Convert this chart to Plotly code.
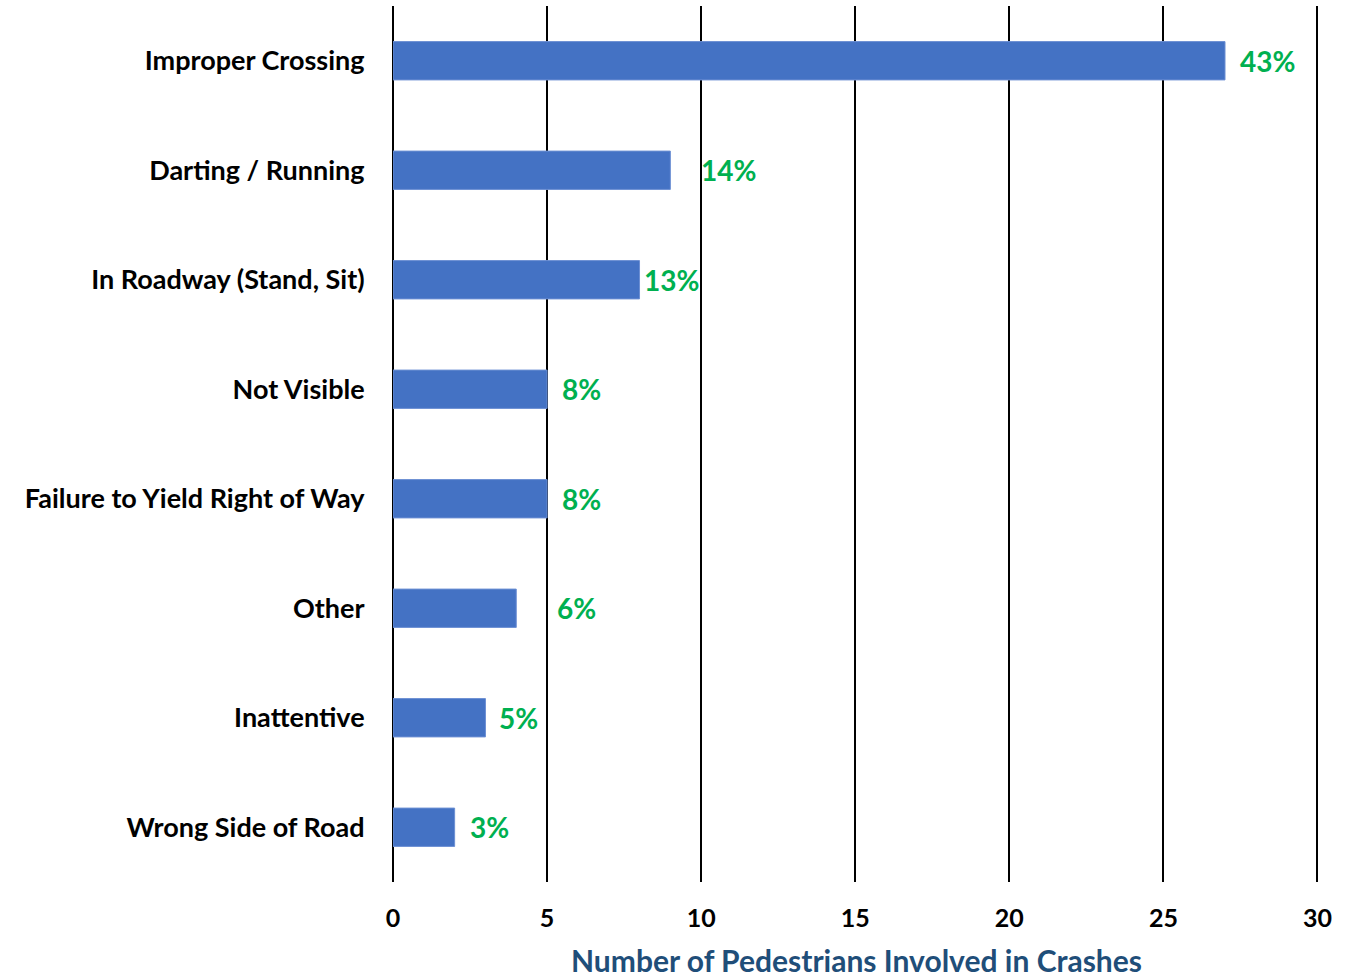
import plotly.graph_objects as go

# Pedestrian crash contributing factors, listed top to bottom
categories = [
    "Improper Crossing",
    "Darting / Running",
    "In Roadway (Stand, Sit)",
    "Not Visible",
    "Failure to Yield Right of Way",
    "Other",
    "Inattentive",
    "Wrong Side of Road",
]
pedestrians = [27, 9, 8, 5, 5, 4, 3, 2]
share_labels = ["43%", "14%", "13%", "8%", "8%", "6%", "5%", "3%"]
x_ticks = [0, 5, 10, 15, 20, 25, 30]
x_title = "Number of Pedestrians Involved in Crashes"

# horizontal pixel nudges for the percentage labels
label_shift = [13, 29, 2, 13, 13, 39, 12, 13]

FONT = "Lato"
BAR_BLUE = "#4472C4"
LABEL_GREEN = "#00B050"

fig = go.Figure(
    go.Bar(
        x=pedestrians,
        y=categories,
        orientation="h",
        marker=dict(color=BAR_BLUE, line=dict(color="#6C8FD3", width=1)),
        width=0.35,
        hoverinfo="x+y",
    )
)

for cat, val, txt, dx in zip(categories, pedestrians, share_labels, label_shift):
    fig.add_annotation(
        x=val, y=cat, text=f"<b>{txt}</b>", showarrow=False,
        xanchor="left", yanchor="middle", xshift=dx,
        font=dict(family=FONT, size=28, color=LABEL_GREEN),
    )

# x-axis title, sitting low under the tick labels
fig.add_annotation(
    x=0.5, y=0, xref="paper", yref="paper", text=f"<b>{x_title}</b>",
    showarrow=False, xanchor="center", yanchor="middle", yshift=-78,
    font=dict(family=FONT, size=30, color="#1F4E79"),
)

fig.update_layout(
    width=1355, height=977,
    margin=dict(l=393, r=36, t=6, b=95),
    paper_bgcolor="white", plot_bgcolor="white",
    showlegend=False,
    font=dict(family=FONT, color="black"),
    xaxis=dict(
        range=[0, 30.05], tickvals=x_ticks,
        ticktext=[f"<b>{t}</b>" for t in x_ticks],
        tickfont=dict(family=FONT, size=25, color="black"),
        showgrid=True, gridcolor="black", gridwidth=2,
        zeroline=True, zerolinecolor="black", zerolinewidth=2,
        showline=False, automargin=False,
        ticks="outside", ticklen=14, tickcolor="rgba(0,0,0,0)",
    ),
    yaxis=dict(
        categoryorder="array", categoryarray=categories,
        autorange="reversed", automargin=False,
        ticktext=[f"<b>{c}</b>" for c in categories], tickvals=categories,
        tickfont=dict(family=FONT, size=27, color="black"),
        showgrid=False, showline=False, zeroline=False,
        ticks="outside", ticklen=22, tickcolor="rgba(0,0,0,0)",
    ),
)

fig.write_html("out.html")
